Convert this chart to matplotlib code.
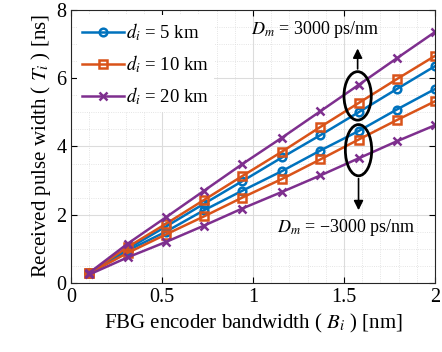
import numpy as np
import matplotlib.pyplot as plt
from matplotlib.patches import Ellipse
from matplotlib.ticker import MultipleLocator

plt.rcParams['font.family'] = ['Liberation Serif', 'DejaVu Serif']
plt.rcParams['mathtext.fontset'] = 'stix'

# FBG encoder bandwidth [nm]
bw = [0.1, 0.31, 0.52, 0.73, 0.94, 1.16, 1.37, 1.58, 1.79, 2.0]

# received pulse width [ns], Dm = +3000 ps/nm
t5_pos = [0.3, 1.0, 1.65, 2.32, 2.98, 3.68, 4.33, 5.0, 5.68, 6.35]
t10_pos = [0.3, 1.05, 1.73, 2.43, 3.13, 3.85, 4.57, 5.27, 5.97, 6.65]
t20_pos = [0.3, 1.15, 1.92, 2.7, 3.48, 4.26, 5.03, 5.8, 6.58, 7.35]
# Dm = -3000 ps/nm
t5_neg = [0.3, 0.95, 1.5, 2.13, 2.7, 3.28, 3.88, 4.45, 5.08, 5.68]
t10_neg = [0.28, 0.88, 1.42, 1.95, 2.5, 3.05, 3.62, 4.2, 4.77, 5.32]
t20_neg = [0.25, 0.75, 1.2, 1.68, 2.18, 2.67, 3.15, 3.65, 4.15, 4.62]

labels = ['$d_i$ = 5 km', '$d_i$ = 10 km', '$d_i$ = 20 km']
colors = ['#0072BD', '#D95319', '#7E2F8E']
markers = ['o', 's', 'x']

fig = plt.figure(figsize=(4.42, 3.52), dpi=100)
ax = fig.add_axes([0.161, 0.196, 0.823, 0.776])

pos = [t5_pos, t10_pos, t20_pos]
neg = [t5_neg, t10_neg, t20_neg]
for i in range(3):
    kw = dict(color=colors[i], marker=markers[i], lw=1.8, ms=5.5, mew=1.8)
    if markers[i] != 'x':
        kw['mfc'] = 'none'
    ax.plot(bw, pos[i], label=labels[i], **kw)
    ax.plot(bw, neg[i], **kw)

# ellipses + arrows
ax.add_patch(Ellipse((1.575, 5.48), 0.15, 1.42, fill=False, lw=2, color='k', zorder=5))
ax.add_patch(Ellipse((1.58, 3.89), 0.145, 1.5, fill=False, lw=2, color='k', zorder=5))
ax.annotate('', xy=(1.575, 6.95), xytext=(1.575, 6.19),
            arrowprops=dict(arrowstyle='-|>', color='k', lw=1.2, mutation_scale=14))
ax.annotate('', xy=(1.58, 2.05), xytext=(1.58, 3.14),
            arrowprops=dict(arrowstyle='-|>', color='k', lw=1.2, mutation_scale=14))
ax.text(0.99, 7.42, '$D_m$ = 3000 ps/nm', fontsize=13, va='center')
ax.text(1.13, 1.64, '$D_m$ = \u22123000 ps/nm', fontsize=13, va='center')

ax.set_xlim(0, 2)
ax.set_ylim(0, 8)
ax.xaxis.set_major_locator(MultipleLocator(0.5))
ax.xaxis.set_minor_locator(MultipleLocator(0.1))
ax.yaxis.set_major_locator(MultipleLocator(2))
ax.yaxis.set_minor_locator(MultipleLocator(0.5))
ax.set_xticks([0, 0.5, 1, 1.5, 2])
ax.set_xticklabels(['0', '0.5', '1', '1.5', '2'])
ax.grid(which='major', color='#dcdcdc', lw=0.8)
ax.grid(which='minor', color='#dcdcdc', lw=0.6, ls=':')
ax.set_axisbelow(True)
ax.tick_params(which='both', direction='in', top=True, right=True, labelsize=14.5)
ax.tick_params(which='minor', length=0)
ax.tick_params(which='major', length=4)
for s in ax.spines.values():
    s.set_color('#262626')

ax.set_xlabel('FBG encoder bandwidth ( $B_i$ ) [nm]', fontsize=15)
ax.set_ylabel('Received pulse width ( $T_i$ ) [ns]', fontsize=15, labelpad=2)

ax.legend(loc='upper left', fontsize=13.5, frameon=True, edgecolor='none',
          facecolor='white', framealpha=1, handlelength=2.2, borderaxespad=0.3,
          handletextpad=0.1, labelspacing=0.55, borderpad=0.3)

fig.savefig('out.png', dpi=100)
